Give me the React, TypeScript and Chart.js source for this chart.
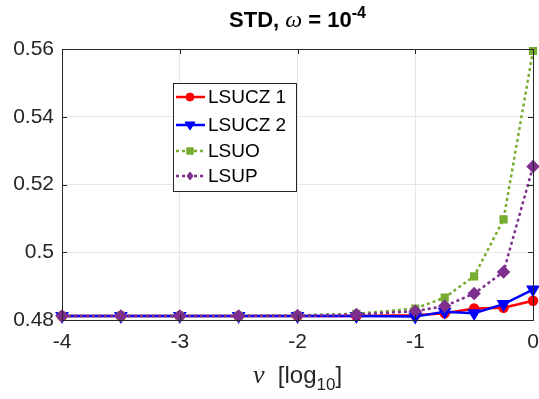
import React, { useEffect, useRef } from "react";
import { Chart, registerables } from "chart.js";
Chart.register(...registerables);

const nu = [-4, -3.5, -3, -2.5, -2, -1.5, -1, -0.75, -0.5, -0.25, 0];
const lsucz1 = [0.4812, 0.4812, 0.4812, 0.4812, 0.4812, 0.4812, 0.4814, 0.482, 0.4834, 0.4836, 0.4857];
const lsucz2 = [0.4812, 0.4812, 0.4812, 0.4812, 0.4812, 0.4812, 0.481, 0.4824, 0.482, 0.4847, 0.489];
const lsuo = [0.4812, 0.4812, 0.4812, 0.4812, 0.4814, 0.4818, 0.4834, 0.4866, 0.4929, 0.5097, 0.5594];
const lsup = [0.4812, 0.4812, 0.4812, 0.4812, 0.4813, 0.4816, 0.4826, 0.4841, 0.4878, 0.4942, 0.5253];
const seriesNames = ["LSUCZ 1", "LSUCZ 2", "LSUO", "LSUP"];
const yTicks = [0.48, 0.5, 0.52, 0.54, 0.56];
const xTicks = [-4, -3, -2, -1, 0];

const RED = "#ff0000";
const BLUE = "#0000ff";
const GREEN = "#77ac30";
const PURPLE = "#7e2f8e";
const FONT = "'Liberation Sans', Arial, sans-serif";
const SERIF = "'Liberation Serif', 'DejaVu Serif', serif";

function drawMarker(ctx: CanvasRenderingContext2D, style: string, x: number, y: number, r: number, color: string) {
  ctx.save();
  ctx.fillStyle = color;
  ctx.strokeStyle = color;
  ctx.setLineDash([]);
  ctx.lineWidth = 1;
  ctx.beginPath();
  if (style === "circle") {
    ctx.arc(x, y, r, 0, Math.PI * 2);
  } else if (style === "tri") {
    ctx.moveTo(x - r, y - r * 0.6);
    ctx.lineTo(x + r, y - r * 0.6);
    ctx.lineTo(x, y + r);
    ctx.closePath();
  } else if (style === "rect") {
    ctx.rect(x - r * 0.8, y - r * 0.8, r * 1.6, r * 1.6);
  } else {
    ctx.moveTo(x, y - r);
    ctx.lineTo(x + r * 0.75, y);
    ctx.lineTo(x, y + r);
    ctx.lineTo(x - r * 0.75, y);
    ctx.closePath();
  }
  ctx.fill();
  ctx.stroke();
  ctx.restore();
}

const decorPlugin = {
  id: "decor",
  afterDraw(chart: any) {
    const ctx: CanvasRenderingContext2D = chart.ctx;
    const a = chart.chartArea;
    const xs = chart.scales.x;
    const ys = chart.scales.y;
    ctx.save();
    // box
    ctx.strokeStyle = "#262626";
    ctx.lineWidth = 1;
    ctx.setLineDash([]);
    ctx.strokeRect(Math.round(a.left) + 0.5, Math.round(a.top) + 0.5, Math.round(a.right - a.left), Math.round(a.bottom - a.top));
    // inner ticks
    const tl = 5;
    ctx.beginPath();
    for (const t of xTicks) {
      const px = Math.round(xs.getPixelForValue(t)) + 0.5;
      ctx.moveTo(px, a.bottom);
      ctx.lineTo(px, a.bottom - tl);
      ctx.moveTo(px, a.top);
      ctx.lineTo(px, a.top + tl);
    }
    for (const t of yTicks) {
      const py = Math.round(ys.getPixelForValue(t)) + 0.5;
      ctx.moveTo(a.left, py);
      ctx.lineTo(a.left + tl, py);
      ctx.moveTo(a.right, py);
      ctx.lineTo(a.right - tl, py);
    }
    ctx.stroke();

    // title
    const cx = (a.left + a.right) / 2;
    const bold = "bold 22px " + FONT;
    const sup = "bold 16px " + FONT;
    const parts: [string, string, number][] = [
      ["STD, ", bold, 0],
      ["\u03c9", "italic 24px " + SERIF, 0],
      [" = 10", bold, 0],
      ["-4", sup, -9],
    ];
    let total = 0;
    for (const p of parts) {
      ctx.font = p[1];
      total += ctx.measureText(p[0]).width;
    }
    let x = cx - total / 2;
    const ty = 27;
    ctx.fillStyle = "#000";
    ctx.textBaseline = "alphabetic";
    ctx.textAlign = "left";
    for (const p of parts) {
      ctx.font = p[1];
      ctx.fillText(p[0], x, ty + p[2]);
      x += ctx.measureText(p[0]).width;
    }

    // x label
    const lparts: [string, string, number][] = [
      ["\u03bd", "italic 26px " + SERIF, 0],
      ["  [log", "24px " + FONT, 0],
      ["10", "17px " + FONT, 7],
      ["]", "24px " + FONT, 0],
    ];
    total = 0;
    for (const p of lparts) {
      ctx.font = p[1];
      total += ctx.measureText(p[0]).width;
    }
    x = cx - total / 2;
    const ly = 383;
    ctx.fillStyle = "#262626";
    for (const p of lparts) {
      ctx.font = p[1];
      ctx.fillText(p[0], x, ly + p[2]);
      x += ctx.measureText(p[0]).width;
    }

    // legend
    const lx = a.left + 111;
    const lyTop = a.top + 34;
    const lw = 123;
    const lh = 108;
    ctx.fillStyle = "#ffffff";
    ctx.fillRect(lx, lyTop, lw, lh);
    ctx.strokeStyle = "#262626";
    ctx.lineWidth = 1;
    ctx.strokeRect(lx + 0.5, lyTop + 0.5, lw, lh);
    const colors = [RED, BLUE, GREEN, PURPLE];
    const markers = ["circle", "tri", "rect", "diamond"];
    const dashed = [false, false, true, true];
    const rowY = [14, 42, 68, 93];
    for (let i = 0; i < 4; i++) {
      const yy = lyTop + rowY[i];
      ctx.strokeStyle = colors[i];
      ctx.lineWidth = 2.5;
      ctx.setLineDash(dashed[i] ? [3, 3] : []);
      ctx.beginPath();
      ctx.moveTo(lx + 3, yy);
      ctx.lineTo(lx + 32, yy);
      ctx.stroke();
      drawMarker(ctx, markers[i], lx + 17, yy, i === 1 ? 5 : 4, colors[i]);
      ctx.fillStyle = "#000";
      ctx.font = "19px " + FONT;
      ctx.textBaseline = "middle";
      ctx.fillText(seriesNames[i], lx + 35, yy + 1);
    }
    ctx.restore();
  },
};

export default function App() {
  const ref = useRef<HTMLCanvasElement | null>(null);
  useEffect(() => {
    if (!ref.current) return;
    const mk = (arr: number[]) => nu.map((v, i) => ({ x: v, y: arr[i] }));
    const chart = new Chart(ref.current, {
      type: "line",
      data: {
        datasets: [
          {
            label: seriesNames[0],
            data: mk(lsucz1),
            borderColor: RED,
            backgroundColor: RED,
            borderWidth: 2.5,
            pointStyle: "circle",
            pointRadius: 4,
            order: 3,
          },
          {
            label: seriesNames[1],
            data: mk(lsucz2),
            borderColor: BLUE,
            backgroundColor: BLUE,
            borderWidth: 2.5,
            pointStyle: "triangle",
            pointRotation: 180,
            pointRadius: 5.5,
            order: 2,
          },
          {
            label: seriesNames[2],
            data: mk(lsuo),
            borderColor: GREEN,
            backgroundColor: GREEN,
            borderWidth: 2.5,
            borderDash: [3, 3],
            pointStyle: "rect",
            pointRadius: 4,
            order: 1,
          },
          {
            label: seriesNames[3],
            data: mk(lsup),
            borderColor: PURPLE,
            backgroundColor: PURPLE,
            borderWidth: 2.5,
            borderDash: [3, 3],
            pointStyle: "rectRot",
            pointRadius: 5,
            order: 0,
          },
        ],
      },
      options: {
        responsive: false,
        animation: false,
        clip: false,
        layout: { autoPadding: false, padding: { top: 49, right: 6, left: 0, bottom: 0 } },
        plugins: { legend: { display: false }, title: { display: false }, tooltip: { enabled: false } },
        elements: { line: { tension: 0 } },
        scales: {
          x: {
            type: "linear",
            min: -4,
            max: 0,
            border: { display: false },
            grid: { color: "#e6e6e6", drawTicks: false },
            afterBuildTicks: (s: any) => {
              s.ticks = xTicks.map((v) => ({ value: v }));
            },
            afterFit: (s: any) => {
              s.height = 79;
              s.paddingLeft = 0;
              s.paddingRight = 0;
            },
            ticks: {
              color: "#262626",
              font: { family: FONT, size: 21 },
              padding: 10,
              maxRotation: 0,
              callback: (v: any) => String(v),
            },
          },
          y: {
            type: "linear",
            min: 0.48,
            max: 0.56,
            border: { display: false },
            grid: { color: "#e6e6e6", drawTicks: false },
            afterBuildTicks: (s: any) => {
              s.ticks = yTicks.map((v) => ({ value: v }));
            },
            afterFit: (s: any) => {
              s.width = 62;
              s.paddingTop = 0;
              s.paddingBottom = 0;
            },
            ticks: {
              color: "#262626",
              font: { family: FONT, size: 21 },
              padding: 8,
              callback: (v: any) => String(Number(Number(v).toFixed(2))),
            },
          },
        },
      },
      plugins: [decorPlugin],
    });
    return () => chart.destroy();
  }, []);
  return (
    <div style={{ position: "fixed", left: 0, top: 0, width: 539, height: 399, background: "#fff" }}>
      <canvas ref={ref} width={539} height={399} style={{ width: 539, height: 399 }} />
    </div>
  );
}
